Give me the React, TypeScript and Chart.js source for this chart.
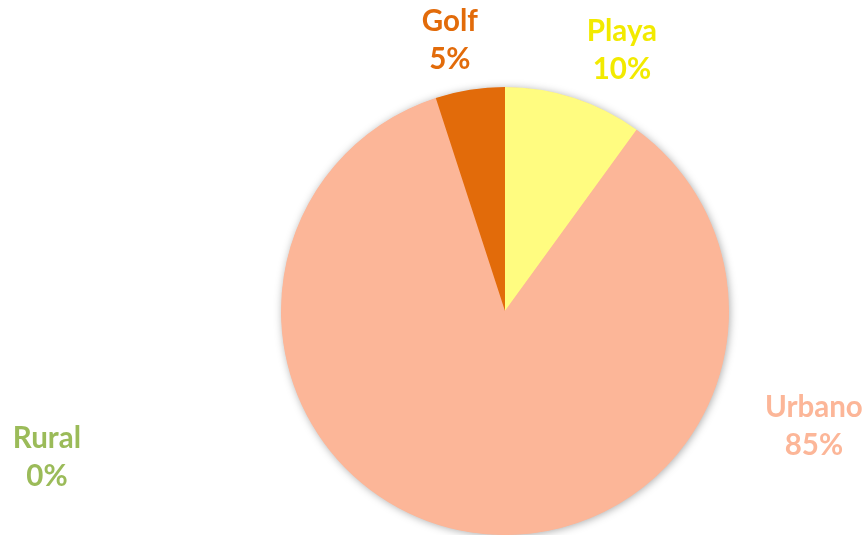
import React, { useEffect, useRef } from "react";
import { Chart, registerables } from "chart.js";

Chart.register(...registerables);

const categories = ["Playa", "Urbano", "Rural", "Golf"];
const values = [10, 85, 0, 5];
const percentLabels = ["10%", "85%", "0%", "5%"];
const sliceColors = ["#FFFC80", "#FCB698", "#9BBB59", "#E26B0A"];
const labelColors = ["#F2EA00", "#FCB698", "#9BBB59", "#E26B0A"];
// label anchor (center x, first-line baseline) relative to pie centre, in radius units
const labelOffsets = [
  [0.522, -1.205],
  [1.379, 0.473],
  [-2.045, 0.612],
  [-0.246, -1.25],
];

const shadowPlugin = {
  id: "pieShadow",
  beforeDatasetsDraw(chart: any) {
    const meta = chart.getDatasetMeta(0);
    const arc = meta.data[0];
    if (!arc) return;
    const { x, y, outerRadius } = arc.getProps(["x", "y", "outerRadius"], true);
    const ctx = chart.ctx;
    ctx.save();
    ctx.shadowColor = "rgba(0,0,0,0.35)";
    ctx.shadowBlur = 8;
    ctx.shadowOffsetX = 1;
    ctx.shadowOffsetY = 1;
    ctx.fillStyle = "#FCB698";
    ctx.beginPath();
    ctx.arc(x, y, outerRadius - 0.5, 0, Math.PI * 2);
    ctx.fill();
    ctx.restore();
  },
};

const labelPlugin = {
  id: "pieLabels",
  afterDatasetsDraw(chart: any) {
    const meta = chart.getDatasetMeta(0);
    const arc = meta.data[0];
    if (!arc) return;
    const { x, y, outerRadius } = arc.getProps(["x", "y", "outerRadius"], true);
    const ctx = chart.ctx;
    ctx.save();
    ctx.font = "bold 29.5px Lato";
    ctx.textAlign = "center";
    ctx.textBaseline = "alphabetic";
    const lineGap = outerRadius * 0.17;
    categories.forEach((cat, i) => {
      const lx = x + labelOffsets[i][0] * outerRadius;
      const ly = y + labelOffsets[i][1] * outerRadius;
      ctx.fillStyle = labelColors[i];
      ctx.fillText(cat, lx, ly);
      ctx.fillText(percentLabels[i], lx, ly + lineGap);
    });
    ctx.restore();
  },
};

export default function App() {
  const ref = useRef<HTMLCanvasElement>(null);
  useEffect(() => {
    document.body.style.margin = "0";
    const chart = new Chart(ref.current!, {
      type: "pie",
      data: {
        labels: categories,
        datasets: [
          {
            data: values,
            backgroundColor: sliceColors,
            borderWidth: 0,
          },
        ],
      },
      options: {
        animation: false,
        responsive: false,
        devicePixelRatio: 1,
        layout: { padding: { left: 144, right: 0, top: 87, bottom: 0 } },
        plugins: {
          legend: { display: false },
          tooltip: { enabled: false },
        },
      },
      plugins: [shadowPlugin, labelPlugin],
    });
    return () => chart.destroy();
  }, []);
  return (
    <div style={{ position: "absolute", left: 0, top: 0, width: 866, height: 535, background: "#fff" }}>
      <canvas ref={ref} width={866} height={535} />
    </div>
  );
}
